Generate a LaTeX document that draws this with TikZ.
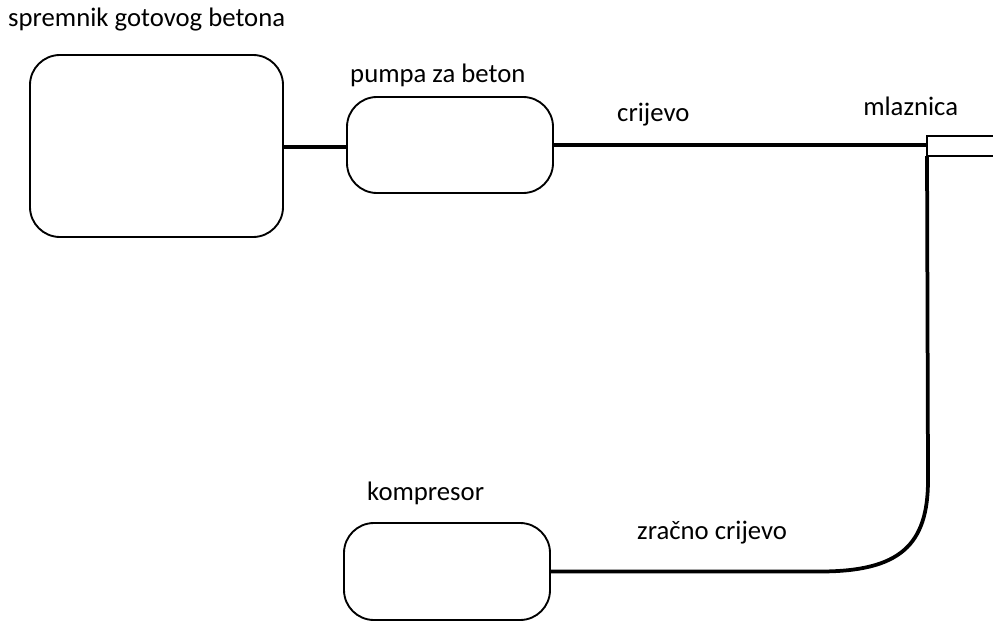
\documentclass[tikz,border=0pt]{standalone}
\usepackage{fontspec}
\setmainfont{Carlito}
\begin{document}
\begin{tikzpicture}[x=0.03cm, y=-0.03cm,
        unit/.style={draw, rounded corners=0.9cm, line width=1.6pt, inner sep=0pt},
        hose/.style={line width=3.2pt},
        lbl/.style={anchor=west, inner sep=0pt, font=\fontsize{22.8}{26}\selectfont}]
        \useasboundingbox (0, 0) rectangle (993, 622);
        \node[unit, minimum width=7.59cm, minimum height=5.46cm] (tank) at (156.5, 146) {};
        \node[unit, minimum width=6.18cm, minimum height=2.88cm] (pump) at (450, 145) {};
        \node[unit, minimum width=6.18cm, minimum height=2.91cm] (comp) at (447, 571.5) {};
        \node[lbl] (tanklbl) at (8, 20) {spremnik gotovog betona};
        \node[lbl] (pumplbl) at (350, 75) {pumpa za beton};
        \node[lbl] (hoselbl) at (617, 115) {crijevo};
        \node[lbl] (nozzlbl) at (863, 106.5) {mlaznica};
        \node[lbl] (complbl) at (367, 493) {kompresor};
        \node[lbl] (airlbl) at (637, 533) {zračno crijevo};
        % mlaznica
        \coordinate (nztop) at (927, 136);
        \coordinate (nzbot) at (927, 156);
        \coordinate (nzin) at (927, 145);
        \draw[line width=1.6pt] (993, 136) -- (nztop) -- (nzbot) -- (993, 156);
        % crijeva
        \draw[hose] (tank.east |- 0, 147) -- (pump.west |- 0, 147);
        \draw[hose] (pump.east |- nzin) -- (nzin);
        \draw[hose] (comp.east) -- (820, 571.5) .. controls (900, 571.5) and (928, 545) .. (928, 480) -- (nzbot);
\end{tikzpicture}
\end{document}
